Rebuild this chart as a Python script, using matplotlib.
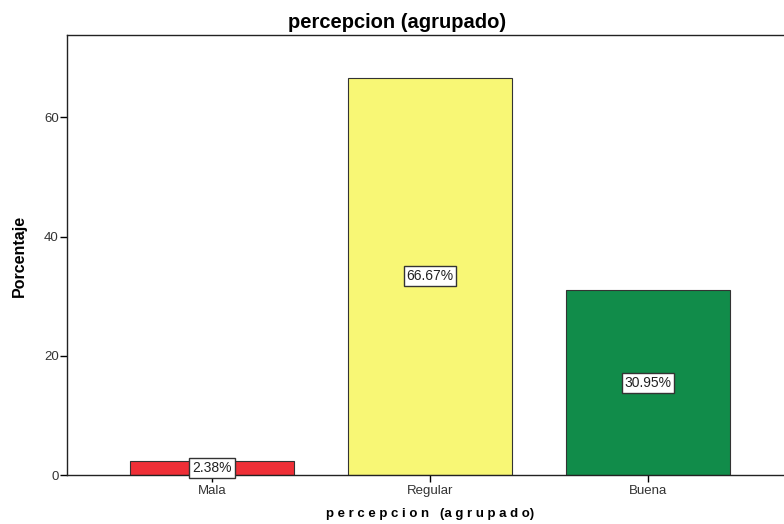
import matplotlib.pyplot as plt

categories = ["Mala", "Regular", "Buena"]
percentages = [2.38, 66.67, 30.95]
bar_colors = ["#ef2f37", "#f8f775", "#118c4a"]

plt.rcParams['font.family'] = ['Liberation Sans', 'DejaVu Sans']

fig = plt.figure(figsize=(7.84, 5.24), dpi=100)
ax = fig.add_axes([67 / 784, 49 / 524, 726 / 784, 440 / 524])

x = range(len(categories))
bars = ax.bar(x, percentages, width=0.75, color=bar_colors,
              edgecolor="#333333", linewidth=0.8, zorder=2)

# value labels in boxes at the middle of each bar
for bar, val in zip(bars, percentages):
    ax.text(bar.get_x() + bar.get_width() / 2, val / 2, f"{val:.2f}%",
            ha="center", va="center", fontsize=10, color="#222222", zorder=3,
            bbox=dict(boxstyle="square,pad=0.2", facecolor="white",
                      edgecolor="#333333", linewidth=1.0))

ax.set_xlim(-0.665, 2.665)
ax.set_ylim(0, 73.8)
ax.set_xticks(list(x))
ax.set_xticklabels(categories)
ax.set_yticks([0, 20, 40, 60])

ax.tick_params(axis="both", direction="out", length=5, width=1,
               labelsize=9.5, colors="black", labelcolor="#333333")
ax.tick_params(axis="x", pad=2)
ax.tick_params(axis="y", pad=1)

for side in ["left", "bottom", "top", "right"]:
    ax.spines[side].set_color("#222222")
    ax.spines[side].set_linewidth(1.0)

fig.text(397 / 784, (524 - 23) / 524, "percepcion (agrupado)",
         ha="center", va="center", fontsize=14.5, fontweight="bold")
fig.text(430 / 784, (524 - 514) / 524, "p e r c e p c i o n   (a g r u p a d o)",
         ha="center", va="center", fontsize=9.5, fontweight="bold")
fig.text(19 / 784, (524 - 256) / 524, "Porcentaje", rotation=90,
         ha="center", va="center", fontsize=11.5, fontweight="bold")

fig.savefig("out.png", dpi=100)
